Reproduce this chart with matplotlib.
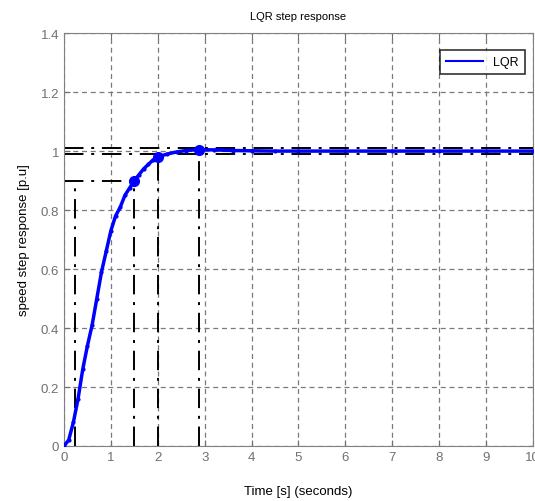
import matplotlib.pyplot as plt
import numpy as np

# step response samples
t = [0, 0.1, 0.2, 0.3, 0.4, 0.5, 0.6, 0.7, 0.8, 0.9, 1.0, 1.1, 1.2, 1.3, 1.4,
     1.5, 1.6, 1.7, 1.8, 1.9, 2.0, 2.2, 2.4, 2.6, 2.88, 3.2, 3.6, 4.0, 4.5,
     5, 6, 7, 8, 9, 10]
y = [0, 0.02, 0.08, 0.16, 0.26, 0.34, 0.41, 0.5, 0.59, 0.66, 0.73, 0.78, 0.81,
     0.85, 0.875, 0.9, 0.92, 0.94, 0.955, 0.97, 0.98, 0.99, 0.997, 1.002,
     1.005, 1.004, 1.002, 1.001, 1.0, 1.0, 1.0, 1.0, 1.0, 1.0, 1.0]

# characteristic points: rise end, settling, peak
char_t = [1.5, 2.0, 2.88]
char_y = [0.9, 0.98, 1.005]
rise_start = 0.23
band = [0.99, 1.01]

xticks = list(range(0, 11))
yticks = [0, 0.2, 0.4, 0.6, 0.8, 1.0, 1.2, 1.4]
ytick_labels = ["0", "0.2", "0.4", "0.6", "0.8", "1", "1.2", "1.4"]

plt.rcParams['font.family'] = ['Liberation Sans', 'DejaVu Sans']

fig = plt.figure(figsize=(5.35, 5.02), dpi=100)
ax = fig.add_axes([0.1196, 0.1096, 0.8764, 0.8224])

dashdot = (0, (10, 4, 1.5, 4))
kw = dict(color="black", linewidth=1.4, linestyle=dashdot, zorder=2)

# settling band
for b in band:
    ax.plot([0, 10], [b, b], **kw)
# rise time
ax.plot([0, char_t[0]], [char_y[0], char_y[0]], **kw)
ax.plot([rise_start, rise_start], [0, char_y[0]], **kw)
for ct, cy in zip(char_t, char_y):
    ax.plot([ct, ct], [0, cy], **kw)

ax.plot(t, y, color="blue", linewidth=2.5, marker="o", markersize=2,
        label="LQR", zorder=3)
ax.plot(char_t, char_y, "o", color="blue", markersize=7, zorder=4)

ax.set_xlim(0, 10)
ax.set_ylim(0, 1.4)
ax.set_xticks(xticks)
ax.set_yticks(yticks)
ax.set_yticklabels(ytick_labels)
ax.tick_params(direction="in", labelsize=9.5, labelcolor="#707070",
               color="#707070", length=4, top=True, right=True)
for s in ax.spines.values():
    s.set_color("#808080")

ax.grid(True, linestyle=(0, (4, 3)), color="#7a7a7a", linewidth=0.9)

ax.set_title("LQR step response", fontsize=8, pad=10)
ax.set_xlabel("Time [s] (seconds)", fontsize=9.5, labelpad=16)
ax.set_ylabel("speed step response [p.u]", fontsize=9.5, labelpad=8)

leg = ax.legend(loc="upper right", fontsize=9, fancybox=False,
                edgecolor="black", handlelength=3, borderpad=0.5,
                bbox_to_anchor=(0.997, 0.975))
leg.get_frame().set_linewidth(1.2)
leg.get_lines()[0].set_marker("")
leg.get_lines()[0].set_linewidth(1.5)

fig.savefig("out.png", dpi=100, facecolor="white")
